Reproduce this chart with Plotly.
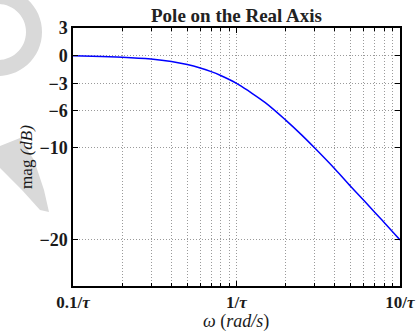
import math
import plotly.graph_objects as go

# Readings from the reference (omega in units of 1/tau, magnitude in dB)
omega = [0.1, 0.15, 0.2, 0.3, 0.4, 0.5, 0.6, 0.7, 0.8, 1.0, 1.2, 1.5, 2.0, 2.5, 3.0, 4.0, 5.0, 6.0, 7.0, 8.0, 10.0]
mag_db = [0.0, -0.1, -0.17, -0.37, -0.64, -0.97, -1.34, -1.73, -2.15, -3.0, -3.9, -5.1, -7.0, -8.6, -10.0, -12.3, -14.2, -15.7, -17.0, -18.1, -20.0]

x_tickvals = [0.1, 1, 10]
x_ticktext = ["<b>0.1/<i>τ</i></b>", "<b>1/<i>τ</i></b>", "<b>10/<i>τ</i></b>"]
x_minorvals = [0.2, 0.3, 0.4, 0.5, 0.6, 0.7, 0.8, 0.9, 2, 3, 4, 5, 6, 7, 8, 9]
y_tickvals = [3, 0, -3, -6, -10, -20]
y_ticktext = ["<b>3</b>", "<b>0</b>", "<b>−3</b>", "<b>−6</b>", "<b>−10</b>", "<b>−20</b>"]

FONT = "Liberation Serif"
W, H = 418, 331
ML, MR, MT, MB = 73, 18, 28, 45
PW, PH = W - ML - MR, H - MT - MB
GRID = "#9a9a9a"
DASH = "1px,2px"


def px(xp, yp):
    return (xp - ML) / PW, (H - MB - yp) / PH


def path_from(points):
    pts = [px(a, b) for a, b in points]
    return "M " + " L ".join(f"{a:.4f},{b:.4f}" for a, b in pts) + " Z"


# faint watermark decoration at left
ring = []
cx, cy = -2, 32
for i in range(0, 31):
    t = -math.pi / 2 + math.pi * i / 30
    ring.append((cx + 44 * math.cos(t), cy + 44 * math.sin(t)))
for i in range(30, -1, -1):
    t = -math.pi / 2 + math.pi * i / 30
    ring.append((cx + 28 * math.cos(t), cy + 28 * math.sin(t)))
leaf = [(0, 146), (20, 138), (34, 160), (44, 190), (49, 212), (40, 210), (22, 190), (0, 168)]

fig = go.Figure()
fig.add_trace(go.Scatter(
    x=omega, y=mag_db, mode="lines",
    line=dict(color="#0000ff", width=1.5, shape="spline"),
    showlegend=False, hoverinfo="skip",
))

for shp in (ring, leaf):
    fig.add_shape(type="path", path=path_from(shp), xref="paper", yref="paper",
                  fillcolor="#d9d9d9", line=dict(width=0), layer="below")

xt_x, xt_y = px(236, 321)
fig.add_annotation(text="<i>ω</i> (<i>rad/s</i>)", x=xt_x, y=xt_y, xref="paper", yref="paper",
                   xanchor="center", yanchor="middle", showarrow=False,
                   font=dict(size=18, family=FONT, color="#1a1a1a"))

fig.update_layout(
    width=W, height=H,
    margin=dict(l=ML, r=MR, t=MT, b=MB),
    paper_bgcolor="white", plot_bgcolor="white",
    font=dict(family=FONT, color="#1a1a1a", size=15),
    title=dict(text="<b>Pole on the Real Axis</b>", x=0.5, xanchor="center",
               xref="paper", y=1 - 15/331, yanchor="middle",
               font=dict(family=FONT, size=19, color="#222")),
)

fig.update_xaxes(
    type="log", range=[-1, 1], automargin=False,
    tickvals=x_tickvals, ticktext=x_ticktext,
    ticks="inside", ticklen=5, tickcolor="black",
    showline=True, linecolor="black", linewidth=1.5, mirror="ticks",
    showgrid=True, gridcolor=GRID, griddash=DASH, gridwidth=1,
    minor=dict(tickvals=x_minorvals, showgrid=True, gridcolor=GRID, griddash=DASH,
               gridwidth=1, ticks="inside", ticklen=3, tickcolor="black"),
    tickfont=dict(size=17, family=FONT, color="#1a1a1a"),
    zeroline=False,
)
fig.update_yaxes(
    range=[-25, 3], automargin=False,
    tickvals=y_tickvals, ticktext=y_ticktext,
    ticks="inside", ticklen=5, tickcolor="black",
    showline=True, linecolor="black", linewidth=1.5, mirror="ticks",
    showgrid=True, gridcolor=GRID, griddash=DASH, gridwidth=1,
    tickfont=dict(size=18, family=FONT, color="#1a1a1a"),
    title=dict(text="mag <i>(dB)</i>", standoff=2,
               font=dict(size=17, family=FONT, color="#1a1a1a")),
    zeroline=False,
)

fig.write_html("out.html")
